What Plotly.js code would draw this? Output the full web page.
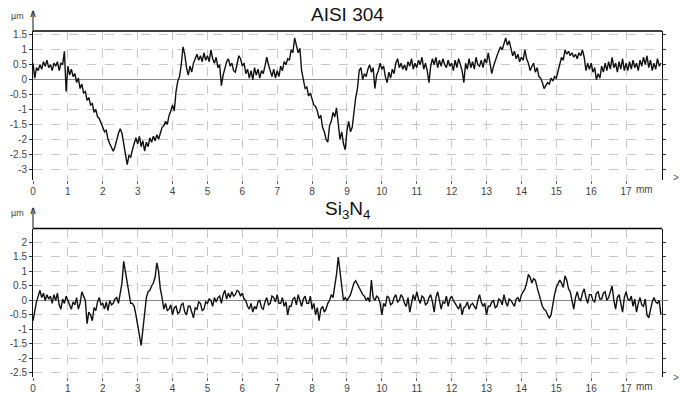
<!DOCTYPE html>
<html>
<head>
<meta charset="utf-8">
<script src="https://cdn.plot.ly/plotly-3.0.1.min.js"></script>
<style>html,body{margin:0;padding:0;background:#fff;}#chart{width:680px;height:395px;}</style>
</head>
<body>
<div id="chart"></div>
<script>
// Profile sampling: start 0 mm, step 0.05 mm
const profileStart = 0;
const profileStep = 0.05;

// AISI 304 profile heights (µm), every 0.05 mm from 0 to 18 mm
const aisiProfile = [
  0.55, 0.05, 0.40, 0.30, 0.50, 0.35, 0.60, 0.45, 0.65, 0.40, 0.50, 0.30, 0.55, 0.45, 0.60, 0.30, 0.55, 0.50, 0.95, -0.40,
  0.45, 0.15, 0.35, 0.10, 0.20, -0.10, 0.05, -0.30, -0.15, -0.45, -0.40, -0.70, -0.60, -0.85, -0.80, -1.10, -1.00, -1.25, -1.30, -1.45,
  -1.55, -1.75, -1.70, -2.00, -2.15, -2.30, -2.40, -2.25, -2.00, -1.80, -1.65, -1.80, -2.15, -2.50, -2.85, -2.55, -2.60, -2.35, -2.10, -1.95,
  -2.15, -1.90, -2.25, -2.05, -2.40, -2.10, -2.25, -1.95, -2.10, -1.90, -2.05, -1.85, -2.00, -1.75, -1.60, -1.55, -1.40, -1.50, -1.20, -1.05,
  -0.85, -1.05, -0.40, -0.05, 0.10, 0.50, 1.10, 0.85, 0.40, 0.15, 0.45, 0.25, 0.55, 0.70, 0.85, 0.65, 0.80, 0.60, 0.90, 0.65,
  0.80, 0.60, 1.00, 0.70, 0.55, 0.75, 0.40, 0.50, -0.20, 0.15, 0.35, 0.60, 0.70, 0.45, 0.55, 0.30, 0.25, 0.50, 0.80, 0.70,
  0.45, 0.55, 0.20, 0.35, 0.05, 0.30, 0.00, 0.40, 0.15, 0.35, 0.05, 0.30, 0.20, 0.45, 0.75, 0.50, 0.30, 0.10, 0.35, 0.05,
  0.30, 0.10, 0.45, 0.30, 0.60, 0.50, 0.70, 0.65, 1.00, 0.90, 1.40, 1.15, 0.90, 1.05, 0.30, 0.00, -0.30, -0.25, -0.55, -0.45,
  -0.70, -0.85, -0.90, -1.05, -1.30, -1.20, -1.60, -1.75, -2.00, -2.10, -1.55, -1.40, -1.10, -1.25, -0.95, -1.50, -2.00, -1.75, -2.15, -2.35,
  -1.70, -1.40, -1.75, -1.60, -1.00, -0.60, -0.30, 0.30, 0.40, 0.00, 0.20, 0.10, 0.35, 0.50, 0.25, 0.40, -0.30, 0.15, 0.30, 0.55,
  0.35, 0.45, 0.10, -0.10, 0.25, 0.05, 0.35, 0.20, 0.55, 0.70, 0.40, 0.55, 0.35, 0.50, 0.30, 0.60, 0.45, 0.70, 0.35, 0.55,
  0.40, 0.65, 0.50, 0.75, 0.35, 0.55, 0.30, -0.10, 0.45, 0.70, 0.50, 0.75, 0.40, 0.65, 0.45, 0.70, 0.50, 0.40, 0.65, 0.45,
  0.55, 0.30, 0.65, 0.40, 0.70, 0.50, 0.30, -0.10, 0.55, 0.35, 0.70, 0.40, 0.60, 0.35, 0.75, 0.50, 0.45, 0.65, 0.40, 0.70,
  0.55, 0.90, 0.60, 0.20, 0.45, 0.65, 0.80, 0.95, 1.10, 1.00, 1.25, 1.40, 1.15, 1.30, 1.05, 0.80, 0.95, 0.70, 0.85, 0.60,
  0.75, 0.65, 1.00, 0.70, 0.55, 0.30, 0.45, 0.55, 0.25, 0.40, 0.10, 0.05, -0.10, -0.30, -0.20, -0.10, -0.15, 0.05, -0.05, 0.10,
  0.05, 0.30, 0.50, 0.75, 0.65, 1.00, 0.85, 0.95, 0.80, 0.90, 0.75, 0.85, 0.70, 0.90, 0.80, 1.00, 0.75, 0.30, 0.55, 0.35,
  0.55, 0.25, 0.40, 0.00, 0.20, 0.05, 0.45, 0.25, 0.55, 0.30, 0.60, 0.35, 0.75, 0.40, 0.55, 0.25, 0.60, 0.35, 0.70, 0.30,
  0.55, 0.30, 0.60, 0.35, 0.65, 0.40, 0.55, 0.30, 0.65, 0.45, 0.75, 0.50, 0.80, 0.40, 0.65, 0.30, 0.55, 0.35, 0.70, 0.45,
  0.55
];

// Si3N4 profile heights (µm), every 0.05 mm from 0 to 18 mm
const si3n4Profile = [
  -0.70, -0.35, -0.05, 0.15, 0.35, 0.10, 0.25, 0.00, 0.20, 0.05, 0.15, -0.10, 0.20, 0.00, 0.25, -0.15, -0.30, 0.05, -0.10, 0.15,
  0.00, -0.20, -0.30, -0.05, -0.15, 0.10, -0.30, -0.10, 0.30, 0.15, 0.00, -0.80, -0.40, -0.50, -0.70, -0.25, -0.35, -0.05, 0.10, -0.15,
  -0.10, -0.30, -0.05, -0.35, 0.00, -0.15, -0.10, 0.05, 0.10, -0.10, 0.20, 0.60, 1.35, 1.00, 0.60, 0.20, -0.10, -0.10, -0.20, -0.50,
  -0.90, -1.30, -1.55, -1.00, -0.30, 0.10, 0.30, 0.35, 0.50, 0.60, 0.80, 1.30, 1.00, 0.40, 0.10, -0.30, -0.10, -0.35, -0.30, -0.15,
  -0.50, -0.25, -0.20, -0.45, -0.40, -0.15, -0.10, -0.40, -0.50, -0.20, -0.20, -0.45, -0.60, -0.25, -0.30, -0.05, -0.10, -0.35, -0.30, -0.05,
  -0.10, 0.05, 0.00, -0.20, 0.10, -0.05, 0.10, 0.15, -0.10, 0.20, 0.35, 0.05, 0.25, 0.10, 0.30, 0.15, 0.20, 0.35, 0.30, 0.15,
  0.25, 0.05, 0.00, -0.20, -0.30, -0.10, -0.40, -0.20, -0.30, -0.05, 0.00, -0.25, -0.30, -0.05, 0.10, -0.15, -0.10, 0.15, 0.10, -0.05,
  0.20, -0.10, -0.10, 0.10, -0.20, -0.05, -0.50, -0.20, -0.20, 0.05, 0.10, -0.15, 0.20, 0.00, -0.20, 0.05, 0.15, -0.10, -0.10, 0.15,
  -0.30, -0.10, -0.50, -0.25, -0.70, -0.30, -0.20, -0.40, -0.30, -0.10, 0.00, 0.20, 0.10, 0.50, 0.90, 1.50, 1.00, 0.30, 0.00, 0.10,
  0.00, 0.10, 0.20, 0.40, 0.60, 0.68, 0.55, 0.40, 0.30, 0.20, 0.15, 0.00, 0.10, -0.05, 0.70, 0.10, 0.00, 0.15, 0.10, -0.10,
  -0.50, -0.10, -0.20, 0.15, 0.10, -0.15, -0.10, 0.10, 0.20, -0.05, 0.00, 0.20, 0.10, -0.10, -0.20, 0.10, -0.40, -0.05, 0.20, 0.00,
  0.30, 0.05, -0.10, 0.15, 0.10, -0.15, -0.10, 0.10, 0.20, -0.05, -0.40, 0.10, 0.30, 0.00, -0.30, -0.05, -0.10, 0.15, -0.20, 0.05,
  0.15, 0.00, -0.10, -0.25, -0.30, -0.10, -0.50, -0.25, -0.20, -0.05, -0.30, -0.15, -0.10, -0.20, -0.30, 0.00, 0.20, -0.05, -0.20, -0.10,
  -0.50, -0.20, -0.20, -0.05, 0.00, -0.25, -0.20, 0.05, 0.00, -0.15, 0.20, -0.05, -0.20, 0.05, 0.00, -0.10, -0.20, 0.05, 0.10, -0.05,
  0.20, 0.30, 0.40, 0.60, 0.90, 0.80, 0.60, 0.75, 0.70, 0.45, 0.20, 0.00, -0.20, -0.30, -0.35, -0.50, -0.60, -0.50, -0.10, 0.20,
  0.45, 0.60, 0.70, 0.60, 0.45, 0.85, 0.70, 0.40, 0.30, 0.00, -0.30, 0.10, 0.30, 0.05, 0.00, 0.25, 0.40, 0.10, -0.10, 0.20,
  0.20, 0.00, -0.05, 0.25, 0.30, 0.05, 0.05, 0.25, 0.30, 0.00, 0.10, 0.30, 0.50, 0.00, -0.30, 0.10, 0.20, -0.10, -0.40, 0.10,
  0.30, 0.05, 0.00, 0.15, -0.20, 0.05, -0.40, -0.10, 0.10, -0.15, -0.20, 0.05, -0.50, -0.60, -0.30, -0.05, 0.10, -0.05, -0.10, 0.00,
  -0.50
];

const xTickVals = [0, 1, 2, 3, 4, 5, 6, 7, 8, 9, 10, 11, 12, 13, 14, 15, 16, 17];
const xTickText = ['0', '1', '2', '3', '4', '5', '6', '7', '8', '9', '10', '11', '12', '13', '14', '15', '16', '17'];
const yTopTickVals = [1.5, 1, 0.5, 0, -0.5, -1, -1.5, -2, -2.5, -3];
const yTopTickText = ['1.5', '1', '0.5', '0', '-0.5', '-1', '-1.5', '-2', '-2.5', '-3'];
const yBotTickVals = [2, 1.5, 1, 0.5, 0, -0.5, -1, -1.5, -2, -2.5];
const yBotTickText = ['2', '1.5', '1', '0.5', '0', '-0.5', '-1', '-1.5', '-2', '-2.5'];
const titles = ['AISI 304', 'Si<sub>3</sub>N<sub>4</sub>'];
const unitY = 'µm';
const unitX = 'mm';

const FONT = 'Liberation Sans, Arial, sans-serif';
const lineStyle = {color: '#111', width: 1.4};

const traces = [
  {type: 'scatter', mode: 'lines', x0: profileStart, dx: profileStep, y: aisiProfile,
   xaxis: 'x', yaxis: 'y', line: lineStyle, hoverinfo: 'skip'},
  {type: 'scatter', mode: 'lines', x0: profileStart, dx: profileStep, y: si3n4Profile,
   xaxis: 'x2', yaxis: 'y2', line: lineStyle, hoverinfo: 'skip'}
];

const tickFont = {family: FONT, size: 10, color: '#444'};
function xAx(anchor) {
  return {
    anchor: anchor, domain: [0, 1], range: [0, 18.03],
    tickmode: 'array', tickvals: xTickVals, ticktext: xTickText, tickfont: tickFont,
    ticks: 'outside', ticklen: 3, tickcolor: '#666', ticklabelstandoff: -1,
    showgrid: true, gridcolor: '#c8c8c8', griddash: 'dash', gridwidth: 1,
    zeroline: false, showline: false, fixedrange: true
  };
}
function yAx(anchor, domain, range, vals, text) {
  return {
    anchor: anchor, domain: domain, range: range,
    tickmode: 'array', tickvals: vals, ticktext: text, tickfont: tickFont,
    ticks: 'outside', ticklen: 3, tickcolor: '#333',
    showline: true, linecolor: '#111', linewidth: 1, mirror: 'ticks',
    showgrid: true, gridcolor: '#c8c8c8', griddash: 'dash', gridwidth: 1,
    zeroline: true, zerolinecolor: '#8a8a8a', zerolinewidth: 1, fixedrange: true
  };
}

const annFont = {family: FONT, size: 9, color: '#444'};
const layout = {
  width: 680, height: 395,
  margin: {l: 33, r: 18, t: 31, b: 18, pad: 0},
  paper_bgcolor: '#fff', plot_bgcolor: '#fff',
  showlegend: false,
  xaxis: xAx('y'),
  yaxis: yAx('x', [0.569, 1], [-3.37, 1.63], yTopTickVals, yTopTickText),
  xaxis2: xAx('y2'),
  yaxis2: yAx('x2', [0, 0.429], [-2.64, 2.48], yBotTickVals, yBotTickText),
  shapes: [
    {type: 'line', xref: 'paper', yref: 'y domain', x0: 0, x1: 1, y0: 1, y1: 1, line: {color: '#000', width: 1.5}},
    {type: 'line', xref: 'paper', yref: 'y2 domain', x0: 0, x1: 1, y0: 1, y1: 1, line: {color: '#000', width: 1.5}},
    {type: 'line', xref: 'paper', yref: 'y domain', x0: 0, x1: 0, y0: 1, y1: 1.12, line: {color: '#111', width: 1}},
    {type: 'line', xref: 'paper', yref: 'y2 domain', x0: 0, x1: 0, y0: 1, y1: 1.12, line: {color: '#111', width: 1}},
    {type: 'line', xref: 'paper', yref: 'y', x0: 1, x1: 1.01, y0: 0, y1: 0, line: {color: '#8a8a8a', width: 1}},
    {type: 'line', xref: 'paper', yref: 'y2', x0: 1, x1: 1.01, y0: 0, y1: 0, line: {color: '#8a8a8a', width: 1}}
  ],
  annotations: [
    {xref: 'paper', yref: 'paper', x: 0.5, y: 1.049, text: titles[0], showarrow: false,
     xanchor: 'center', yanchor: 'middle', font: {family: FONT, size: 19, color: '#111'}},
    {xref: 'paper', yref: 'paper', x: 0.5, y: 0.482, text: titles[1], showarrow: false,
     xanchor: 'center', yanchor: 'middle', font: {family: FONT, size: 19, color: '#111'}},
    {xref: 'paper', yref: 'paper', x: -0.0254, y: 1.043, text: unitY, showarrow: false,
     xanchor: 'center', yanchor: 'middle', font: annFont},
    {xref: 'paper', yref: 'paper', x: -0.0254, y: 0.473, text: unitY, showarrow: false,
     xanchor: 'center', yanchor: 'middle', font: annFont},
    {xref: 'paper', yref: 'y domain', x: 0, y: 1.12, text: '∧', showarrow: false,
     xanchor: 'center', yanchor: 'middle', font: {family: 'DejaVu Sans', size: 11, color: '#222'}},
    {xref: 'paper', yref: 'y2 domain', x: 0, y: 1.12, text: '∧', showarrow: false,
     xanchor: 'center', yanchor: 'middle', font: {family: 'DejaVu Sans', size: 11, color: '#222'}},
    {xref: 'paper', yref: 'y domain', x: 1.022, y: 0.02, text: '>', showarrow: false,
     xanchor: 'center', yanchor: 'middle', font: {family: FONT, size: 10, color: '#555'}},
    {xref: 'paper', yref: 'y2 domain', x: 1.022, y: 0.0, text: '>', showarrow: false,
     xanchor: 'center', yanchor: 'middle', font: {family: FONT, size: 10, color: '#555'}},
    {xref: 'x', yref: 'y domain', x: 17, y: 0, xshift: 8, yshift: -9, text: unitX, showarrow: false,
     xanchor: 'left', yanchor: 'middle', font: tickFont},
    {xref: 'x2', yref: 'y2 domain', x: 17, y: 0, xshift: 8, yshift: -9, text: unitX, showarrow: false,
     xanchor: 'left', yanchor: 'middle', font: tickFont}
  ]
};

Plotly.newPlot('chart', traces, layout, {displayModeBar: false, staticPlot: true});
</script>
</body>
</html>
